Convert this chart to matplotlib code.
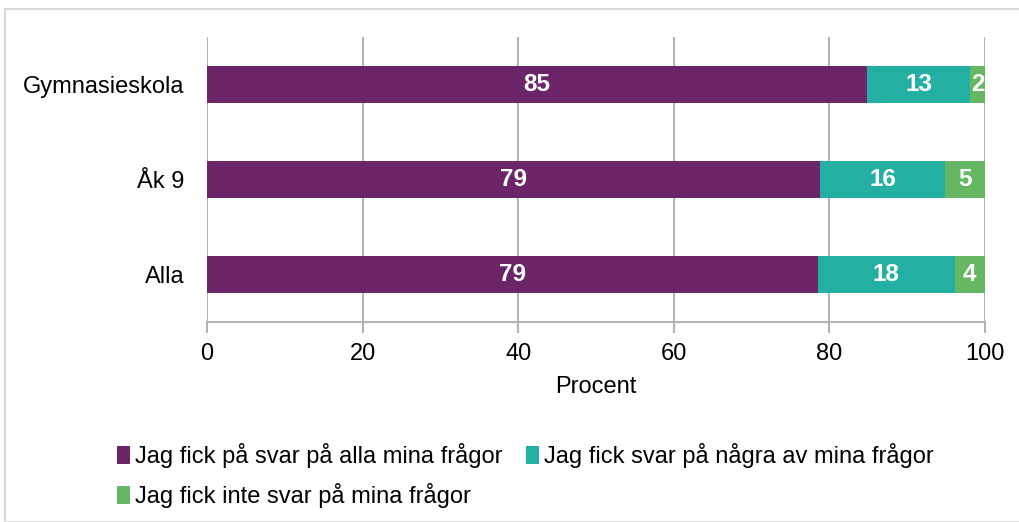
import matplotlib
matplotlib.use("Agg")
import matplotlib.pyplot as plt
from matplotlib.patches import Rectangle
import numpy as np

plt.rcParams['font.family'] = ['Liberation Sans', 'DejaVu Sans']

categories = ["Gymnasieskola", "Åk 9", "Alla"]
series_names = ["Jag fick på svar på alla mina frågor",
                "Jag fick svar på några av mina frågor",
                "Jag fick inte svar på mina frågor"]
all_answered = [84.8, 78.8, 78.5]
some_answered = [13.3, 16.1, 17.6]
none_answered = [1.9, 5.1, 3.9]
all_labels = [85, 79, 79]
some_labels = [13, 16, 18]
none_labels = [2, 5, 4]
xticks = [0, 20, 40, 60, 80, 100]
x_title = "Procent"

colors = ["#6B2568", "#23B0A3", "#66B763"]
FS = 17

W, H = 1020, 522
fig = plt.figure(figsize=(W / 100, H / 100), dpi=100)
fig.patches.append(Rectangle((5 / W, 0), 1.2, 1 - 9 / H, transform=fig.transFigure,
                             fill=False, edgecolor="#d9d9d9", linewidth=1.5))

ax = fig.add_axes([207 / W, 1 - 322 / H, (985 - 207) / W, (322 - 37) / H])
y = np.arange(len(categories))
series = [all_answered, some_answered, none_answered]
labels = [all_labels, some_labels, none_labels]
left = np.zeros(len(categories))
for vals, labs, col, name in zip(series, labels, colors, series_names):
    bars = ax.barh(y, vals, left=left, height=0.39, color=col, label=name, zorder=3)
    for b, lab in zip(bars, labs):
        ax.text(b.get_x() + b.get_width() / 2, b.get_y() + b.get_height() / 2, str(lab),
                ha="center", va="center", color="white", fontsize=FS + 0.5,
                fontweight="bold", zorder=4)
    left += np.array(vals)

ax.set_xlim(0, 100)
ax.set_ylim(len(categories) - 0.5, -0.5)
ax.set_yticks(y)
ax.set_yticklabels(categories, fontsize=FS)
ax.set_xticks(xticks)
ax.set_xticklabels([str(t) for t in xticks], fontsize=FS)
ax.tick_params(axis="y", length=0, pad=16)
ax.tick_params(axis="x", length=8, color="#b4b4b4", width=1.5, pad=7)
ax.grid(axis="x", color="#b4b4b4", linewidth=1.5, zorder=0)
for s in ["top", "right", "left"]:
    ax.spines[s].set_visible(False)
ax.spines["bottom"].set_color("#b4b4b4")
ax.spines["bottom"].set_linewidth(1.5)
ax.set_xlabel(x_title, fontsize=FS, labelpad=8)

handles, lbls = ax.get_legend_handles_labels()
order = [0, 2, 1]
leg = fig.legend([handles[i] for i in order], [lbls[i] for i in order],
                 loc="upper left", bbox_to_anchor=(96 / W, 1 - 422 / H),
                 ncol=2, frameon=False, fontsize=FS, handlelength=0.55, handleheight=0.8,
                 handletextpad=0.2, columnspacing=1.0, labelspacing=0.62)

fig.savefig("out.png", dpi=100, facecolor="white")
